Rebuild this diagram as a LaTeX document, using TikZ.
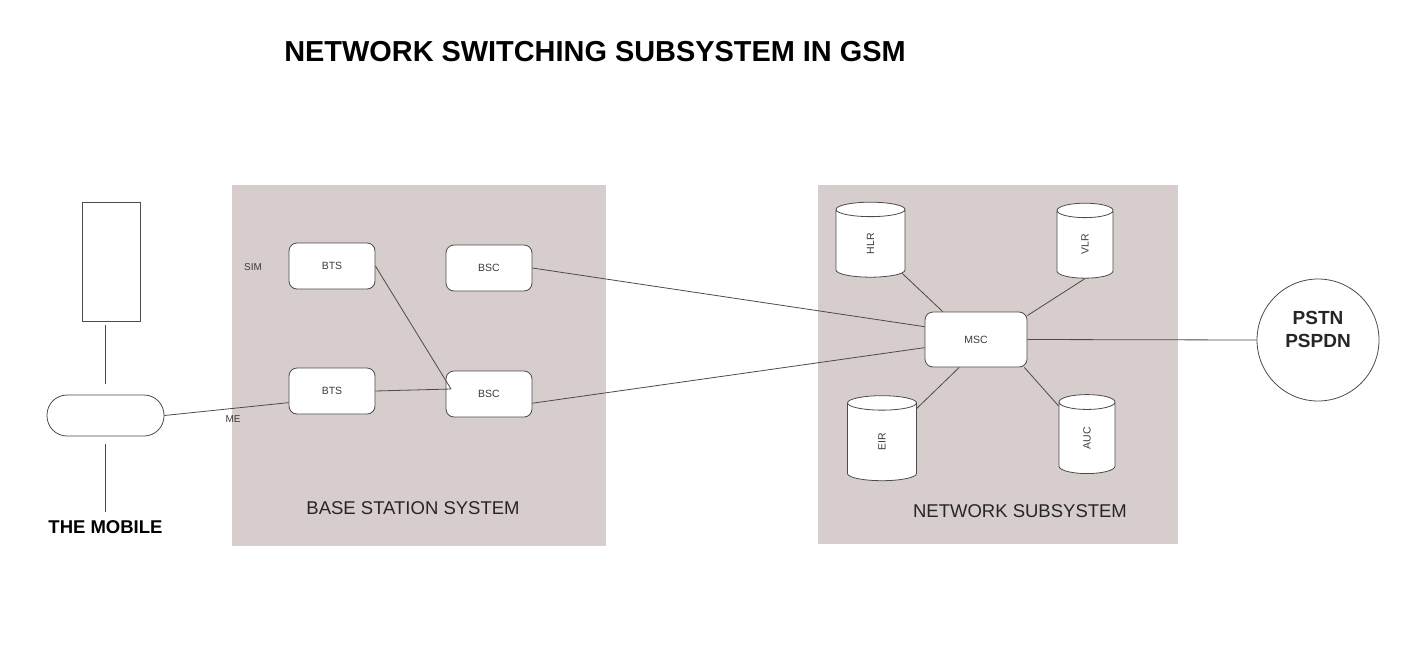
\documentclass[tikz,border=0pt]{standalone}
\usepackage{fontspec}
\setmainfont{Liberation Sans}
\usetikzlibrary{shapes.geometric, positioning}
\definecolor{panelrose}{RGB}{215,205,205}
\definecolor{linegray}{RGB}{75,75,75}
\definecolor{labelgray}{RGB}{60,60,60}

\begin{document}
\begin{tikzpicture}[x=1pt, y=-1pt,
    panel/.style={fill=panelrose, draw=none, inner sep=0pt},
    unit/.style={draw=linegray, fill=white, rounded corners=8pt, line width=0.8pt,
        minimum width=86pt, minimum height=46pt, inner sep=0pt,
        font=\fontsize{10.5}{12}\selectfont, text=labelgray},
    store/.style={cylinder, draw=linegray, fill=white, rotate=90, aspect=2,
        line width=0.8pt, inner sep=0pt, font=\fontsize{10.5}{12}\selectfont, text=labelgray},
    link/.style={draw=linegray, line width=0.8pt},
    tag/.style={font=\fontsize{10}{12}\selectfont, text=labelgray},
    caption/.style={font=\fontsize{18.5}{22}\selectfont, text=black!85}]
    \useasboundingbox (0,0) rectangle (1402,667);

    % Title
    \node (title) at (595,52) {\fontsize{28.9}{32}\selectfont\bfseries NETWORK SWITCHING SUBSYSTEM IN GSM};

    % Subsystem panels
    \node[panel, minimum width=374pt, minimum height=361pt] (bss) at (419,365.5) {};
    \node[panel, minimum width=360pt, minimum height=359pt] (nss) at (998,364.5) {};
    \node[caption] (bsslabel) at (413,508) {BASE STATION SYSTEM};
    \node[caption] (nsslabel) at (1020,511) {NETWORK SUBSYSTEM};

    % The mobile
    \node[draw=linegray, line width=0.8pt, minimum width=58pt, minimum height=119pt] (phone) at (111,261.5) {};
    \node[draw=linegray, line width=0.8pt, fill=white, rounded corners=20pt,
        minimum width=117pt, minimum height=41pt] (mobile) at (105.5,415.5) {};
    \node (mobiletag) at (105.5,527) {\fontsize{18.5}{22}\selectfont\bfseries THE MOBILE};
    \coordinate (phonebase) at (105.5,325);
    \coordinate (mobileend) at (105.5,512);
    \node[tag] (sim) at (253,267) {SIM};
    \node[tag] (me) at (233,419) {ME};

    % Base station system
    \node[unit] (bts1) at (332,266) {BTS};
    \node[unit] (bts2) at (332,391) {BTS};
    \node[unit] (bsc1) at (489,268) {BSC};
    \node[unit] (bsc2) at (489,394) {BSC};
    \coordinate (join) at (451,389);

    % Network subsystem
    \node[unit, minimum width=102pt, minimum height=55pt] (msc) at (976,339.5) {MSC};
    \node[store, minimum height=75pt, minimum width=69pt] (hlr) at (870.5,243.5) {HLR};
    \node[store, minimum height=75pt, minimum width=56pt] (vlr) at (1085,244.5) {VLR};
    \node[store, minimum height=85pt, minimum width=69pt] (eir) at (882,442) {EIR};
    \node[store, minimum height=79pt, minimum width=56pt] (auc) at (1087,438) {AUC};

    % External networks
    \node[circle, draw=linegray, line width=0.8pt, minimum size=122pt, inner sep=0pt] (pstn) at (1318,340) {};
    \node[align=center, font=\fontsize{19}{23}\selectfont\bfseries, text=black!85] (pstnlabel)
        at ([yshift=11pt]pstn.center) {PSTN\\PSPDN};

    % Connectors
    \draw[link, shorten >=11pt] (phonebase) -- (mobile.north);
    \draw[link, shorten <=8pt] (mobile.south) -- (mobileend);
    \draw[link] (mobile.east) -- (bts2.195);
    \draw[link] (bts1.east) -- (join);
    \draw[link] (bts2.east) -- (join);
    \draw[link] (bsc1.east) -- (msc.166);
    \draw[link] (bsc2.348) -- (msc.189);
    \draw[link] (msc.east) -- (pstn.west);
    \draw[link] (msc.140) -- (hlr);
    \draw[link] (msc.25) -- (vlr.west);
    \draw[link] (msc.239) -- (eir);
    \draw[link] (msc.330) -- (auc);
\end{tikzpicture}
\end{document}
